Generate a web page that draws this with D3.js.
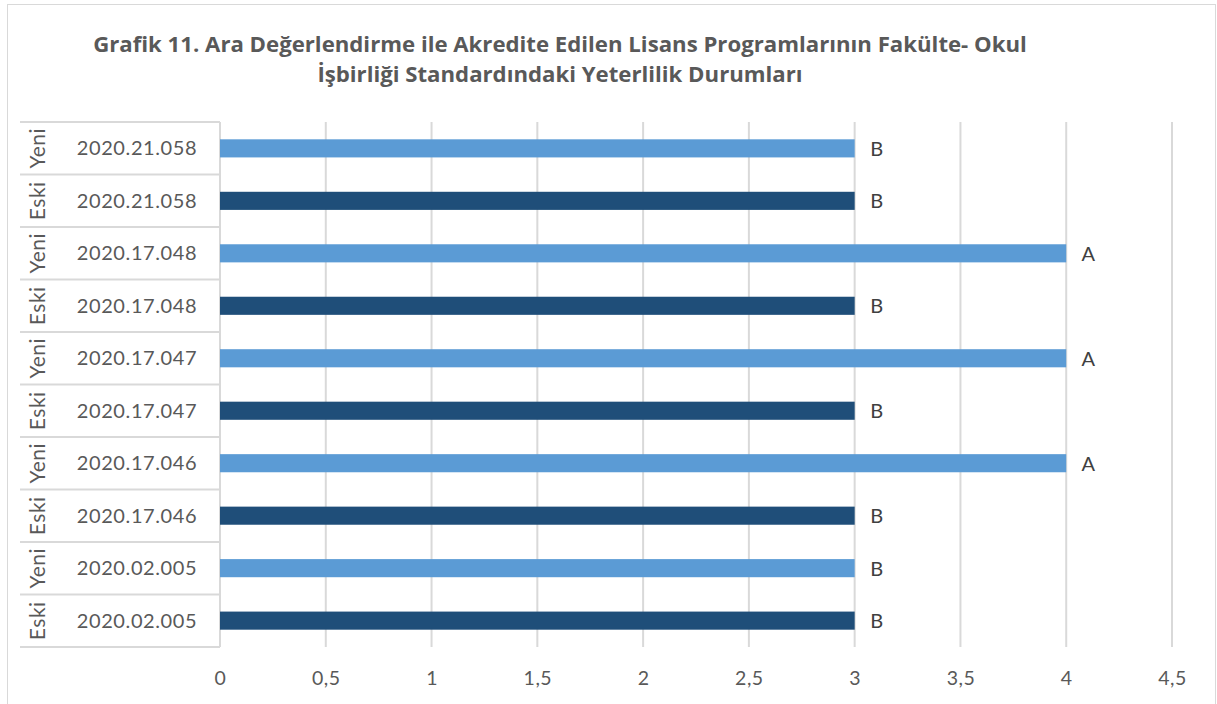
<!DOCTYPE html>
<html>
<head>
<meta charset="utf-8">
<script src="https://cdn.jsdelivr.net/npm/d3@7"></script>
<style>
  body { margin: 0; background: #fff; }
  svg text { font-family: Lato, "Open Sans", sans-serif; }
</style>
</head>
<body>
<svg id="chart" width="1217" height="704"></svg>
<script>
// data, listed from bottom to top as in the picture
var programs = ["2020.02.005", "2020.02.005", "2020.17.046", "2020.17.046", "2020.17.047",
                "2020.17.047", "2020.17.048", "2020.17.048", "2020.21.058", "2020.21.058"];
var groups = ["Eski", "Yeni", "Eski", "Yeni", "Eski", "Yeni", "Eski", "Yeni", "Eski", "Yeni"];
var values = [3, 3, 3, 4, 3, 4, 3, 4, 3, 3];
var grades = ["B", "B", "B", "A", "B", "A", "B", "A", "B", "B"];
var xTicks = [0, 0.5, 1, 1.5, 2, 2.5, 3, 3.5, 4, 4.5];
var titleLines = ["Grafik 11. Ara Değerlendirme ile Akredite Edilen Lisans Programlarının Fakülte- Okul",
                  "İşbirliği Standardındaki Yeterlilik Durumları"];

var MARGIN = { LEFT: 220, RIGHT: 1172, TOP: 122, BOTTOM: 647 };
var colors = { Eski: "#1F4E79", Yeni: "#5B9BD5" };

var rows = values.map(function(v, i) {
  return { key: i, program: programs[i], group: groups[i], value: v, grade: grades[i] };
});

var svg = d3.select("#chart");

// outer frame
svg.append("rect")
  .attr("x", 7.5).attr("y", 4.5)
  .attr("width", 1208).attr("height", 720)
  .attr("fill", "#fff").attr("stroke", "#D9D9D9").attr("stroke-width", 1);

// title
svg.append("g").selectAll("text")
  .data(titleLines)
  .join("text")
  .attr("x", 560)
  .attr("y", function(d, i) { return 52 + i * 30; })
  .attr("text-anchor", "middle")
  .attr("font-size", 22.2)
  .attr("font-weight", "bold")
  .attr("fill", "#595959")
  .style("font-family", "'Open Sans', sans-serif")
  .text(function(d) { return d; });

var x = d3.scaleLinear()
  .domain([0, 4.5])
  .range([MARGIN.LEFT, MARGIN.RIGHT]);

var y = d3.scaleBand()
  .domain(rows.map(function(d) { return d.key; }).reverse())
  .range([MARGIN.TOP, MARGIN.BOTTOM])
  .paddingInner(0.655)
  .paddingOuter(0.33);

var yCat = d3.scaleBand()
  .domain(rows.map(function(d) { return d.key; }).reverse())
  .range([MARGIN.TOP, MARGIN.BOTTOM]);

// grid lines
svg.append("g")
  .selectAll("line")
  .data(xTicks)
  .join("line")
  .attr("x1", function(d) { return x(d); })
  .attr("x2", function(d) { return x(d); })
  .attr("y1", MARGIN.TOP)
  .attr("y2", MARGIN.BOTTOM)
  .attr("stroke", "#D9D9D9")
  .attr("stroke-width", 2);

// x axis labels
var xAxis = d3.axisBottom(x)
  .tickValues(xTicks)
  .tickSize(0)
  .tickPadding(24)
  .tickFormat(function(d) { return String(d).replace(".", ","); });

svg.append("g")
  .attr("transform", "translate(0," + MARGIN.BOTTOM + ")")
  .call(xAxis)
  .call(function(g) { g.select(".domain").remove(); })
  .selectAll("text")
  .attr("font-size", 19.5)
  .attr("letter-spacing", 0.5)
  .attr("font-family", "Lato, 'Open Sans', sans-serif")
  .attr("fill", "#595959");

// multi-level category axis (table style)
var catAxis = svg.append("g");

catAxis.selectAll("line.row")
  .data(d3.range(rows.length + 1))
  .join("line")
  .attr("class", "row")
  .attr("x1", 20)
  .attr("x2", MARGIN.LEFT)
  .attr("y1", function(i) { return MARGIN.TOP + i * yCat.bandwidth(); })
  .attr("y2", function(i) { return MARGIN.TOP + i * yCat.bandwidth(); })
  .attr("stroke", "#D9D9D9")
  .attr("stroke-width", 2);

catAxis.append("line")
  .attr("x1", MARGIN.LEFT).attr("x2", MARGIN.LEFT)
  .attr("y1", MARGIN.TOP).attr("y2", MARGIN.BOTTOM)
  .attr("stroke", "#D9D9D9")
  .attr("stroke-width", 2);

catAxis.selectAll("text.program")
  .data(rows)
  .join("text")
  .attr("class", "program")
  .attr("x", 137)
  .attr("y", function(d) { return yCat(d.key) + yCat.bandwidth() / 2; })
  .attr("dy", "0.35em")
  .attr("text-anchor", "middle")
  .attr("font-size", 20)
  .attr("letter-spacing", 0.6)
  .attr("fill", "#595959")
  .text(function(d) { return d.program; });

catAxis.selectAll("text.group")
  .data(rows)
  .join("text")
  .attr("class", "group")
  .attr("transform", function(d) {
    return "translate(38," + (yCat(d.key) + yCat.bandwidth() / 2) + ") rotate(-90)";
  })
  .attr("dy", "0.35em")
  .attr("text-anchor", "middle")
  .attr("font-size", 21)
  .attr("letter-spacing", 0.5)
  .attr("fill", "#595959")
  .text(function(d) { return d.group; });

// bars
svg.append("g")
  .selectAll("rect")
  .data(rows)
  .join("rect")
  .attr("x", x(0))
  .attr("y", function(d) { return y(d.key); })
  .attr("width", function(d) { return x(d.value) - x(0); })
  .attr("height", y.bandwidth())
  .attr("fill", function(d) { return colors[d.group]; });

// data labels
svg.append("g")
  .selectAll("text")
  .data(rows)
  .join("text")
  .attr("x", function(d) { return x(d.value) + 22; })
  .attr("y", function(d) { return y(d.key) + y.bandwidth() / 2; })
  .attr("dy", "0.37em")
  .attr("text-anchor", "middle")
  .attr("font-size", 20)
  .attr("fill", "#404040")
  .text(function(d) { return d.grade; });
</script>
</body>
</html>
